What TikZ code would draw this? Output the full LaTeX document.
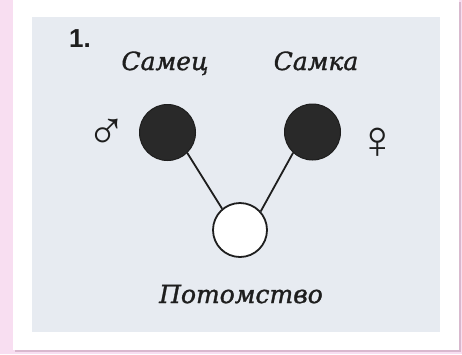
\documentclass[tikz,border=0pt]{standalone}
\usepackage{fontspec}
\newfontfamily\labfont[FakeBold=1.3]{DejaVu Serif}
\newfontfamily\numfont{Liberation Sans}
\newfontfamily\symfont{Liberation Sans}
\definecolor{pinkbg}{HTML}{F8DEF1}
\definecolor{shadowc}{HTML}{D9B8CE}
\definecolor{scanbg}{HTML}{E7EBF1}
\definecolor{ink}{HTML}{1E1E1E}
\tikzset{
  lab/.style={font=\labfont\itshape\fontsize{25}{28}\selectfont, text=ink, inner sep=0pt, anchor=base},
  parent/.style={circle, draw=ink, fill=ink!95, line width=1pt, minimum size=56pt, inner sep=0pt},
  child/.style={circle, draw=ink, fill=white, line width=1.8pt, minimum size=54pt, inner sep=0pt},
  link/.style={draw=ink, line width=1.8pt},
  sym/.style={font=\symfont\fontsize{54}{58}\selectfont, text=ink, inner sep=0pt}
}
\begin{document}
\begin{tikzpicture}[x=1pt,y=-1pt]
\useasboundingbox (0,0) rectangle (462,354);
\fill[pinkbg] (0,0) rectangle (462,354);
\fill[shadowc] (15,2) rectangle (461,352);
\fill[white] (13,0) rectangle (459,350);
\fill[scanbg] (32,17) rectangle (440,332);
\node[font=\numfont\bfseries\fontsize{26}{28}\selectfont, text=ink, inner sep=0pt, anchor=base west] (num) at (69,47) {1.};
\node[lab] (samec) at (165,70) {Самец};
\node[lab] (samka) at (316,70) {Самка};
\node[parent] (m) at (167.5,132.5) {};
\node[parent] (f) at (312.5,132) {};
\node[child] (o) at (240,230) {};
\node[sym] (ms) at (107,134) {♂};
\node[sym] (fs) at (378,143) {♀};
\draw[link] (m.-46) -- (o.130);
\draw[link] (f.227) -- (o.42);
\node[lab] (pot) at (241,303) {Потомство};
\end{tikzpicture}
\end{document}
